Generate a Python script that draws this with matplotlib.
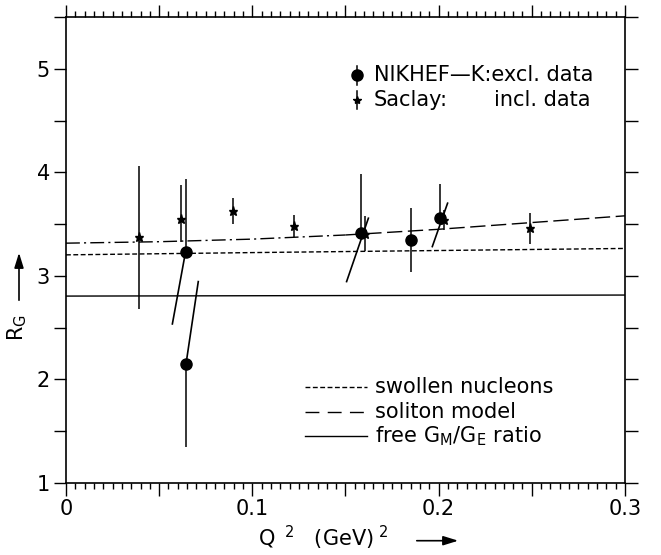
import matplotlib
matplotlib.use("Agg")
import matplotlib.pyplot as plt
from matplotlib.ticker import MultipleLocator, FuncFormatter

plt.rcParams['font.family'] = ['DejaVu Sans']

# Saclay inclusive data (stars)
saclay_q2 = [0.039, 0.0615, 0.0896, 0.1224, 0.1605, 0.2029, 0.249]
saclay_rg = [3.374, 3.545, 3.63, 3.477, 3.406, 3.54, 3.46]
saclay_lo = [0.69, 0.22, 0.13, 0.10, 0.17, 0.10, 0.15]
saclay_hi = [0.69, 0.33, 0.12, 0.11, 0.17, 0.10, 0.15]

# NIKHEF-K exclusive data (filled circles)
nik_q2 = [0.0642, 0.0644, 0.1581, 0.185, 0.2007]
nik_rg = [3.235, 2.147, 3.412, 3.348, 3.563]
nik_lo = [0.0, 0.80, 0.0, 0.31, 0.0]
nik_hi = [0.70, 0.0, 0.57, 0.31, 0.32]

# tilted bars through some NIKHEF points
slant_q2_a = [0.0571, 0.0644, 0.1506, 0.1966]
slant_rg_a = [2.536, 2.147, 2.945, 3.283]
slant_q2_b = [0.0642, 0.0710, 0.1623, 0.2048]
slant_rg_b = [3.235, 2.945, 3.557, 3.702]

# model curves
swollen_q2 = [0.0, 0.1, 0.2, 0.3]
swollen_rg = [3.203, 3.225, 3.245, 3.265]
soliton_q2 = [0.0, 0.05, 0.1, 0.15, 0.2, 0.25, 0.3]
soliton_rg = [3.316, 3.33, 3.355, 3.395, 3.45, 3.515, 3.58]
free_q2 = [0.0, 0.3]
free_rg = [2.805, 2.815]

FS = 15

fig = plt.figure(figsize=(6.61, 5.55), dpi=100)
ax = fig.add_axes([0.0998, 0.1297, 0.8457, 0.8397])

lw = 1.0
ax.plot(free_q2, free_rg, color='black', lw=lw)
ax.plot(swollen_q2, swollen_rg, color='black', lw=lw, dashes=(3.5, 1.8))
# soliton curve: dash-dot at low Q2, long dashes further out
n_split = 4
ax.plot(soliton_q2[:n_split], soliton_rg[:n_split], color='black', lw=lw,
        dashes=(10, 3, 1.5, 3))
ax.plot(soliton_q2[n_split - 1:], soliton_rg[n_split - 1:], color='black', lw=lw,
        dashes=(11, 4))

ax.errorbar(saclay_q2, saclay_rg, yerr=[saclay_lo, saclay_hi], fmt='*',
            color='black', ms=6.5, elinewidth=1.1, capsize=0)
ax.errorbar(nik_q2, nik_rg, yerr=[nik_lo, nik_hi], fmt='o', color='black',
            ms=8, elinewidth=1.1, capsize=0)
for xa, ya, xb, yb in zip(slant_q2_a, slant_rg_a, slant_q2_b, slant_rg_b):
    ax.plot([xa, xb], [ya, yb], color='black', lw=1.2)

ax.set_xlim(0, 0.3)
ax.set_ylim(1, 5.5)

ax.xaxis.set_major_locator(MultipleLocator(0.05))
ax.xaxis.set_minor_locator(MultipleLocator(0.005))
ax.yaxis.set_major_locator(MultipleLocator(0.5))


def xfmt(v, pos):
    if abs(v * 10 - round(v * 10)) > 1e-6:
        return ''
    return '0' if abs(v) < 1e-9 else '%.1f' % v


def yfmt(v, pos):
    return '%d' % round(v) if abs(v - round(v)) < 1e-6 else ''


ax.xaxis.set_major_formatter(FuncFormatter(xfmt))
ax.yaxis.set_major_formatter(FuncFormatter(yfmt))
ax.tick_params(which='both', direction='out', top=True, right=True,
               labelsize=FS, width=1.0)
ax.tick_params(which='major', length=9, pad=2.5)
ax.tick_params(which='minor', length=4)
ax.tick_params(axis='y', which='minor', left=False, right=False)
for s in ax.spines.values():
    s.set_linewidth(1.2)

ftr = fig.transFigure

# legend for the data (top right)
lx = 356.7 / 661
fig.lines.append(plt.Line2D([lx], [1 - 75 / 555], marker='o', ms=8,
                            color='black', transform=ftr))
fig.lines.append(plt.Line2D([lx, lx], [1 - 66 / 555, 1 - 85 / 555], lw=1.1,
                            color='black', transform=ftr))
fig.lines.append(plt.Line2D([lx], [1 - 100 / 555], marker='*', ms=6,
                            color='black', transform=ftr))
fig.lines.append(plt.Line2D([lx, lx], [1 - 91 / 555, 1 - 109 / 555], lw=1.1,
                            color='black', transform=ftr))
tx = 374 / 661
fig.text(tx, 1 - 75 / 555, 'NIKHEF\u2014K:excl. data', fontsize=FS,
         va='center', ha='left')
fig.text(tx, 1 - 100 / 555, 'Saclay:', fontsize=FS, va='center', ha='left')
fig.text(590 / 661, 1 - 100 / 555, 'incl. data', fontsize=FS, va='center',
         ha='right')

# legend for the curves (bottom right)
l0, l1 = 305 / 661, 367 / 661
rows = [386.7, 411.7, 436.0]
styles = [dict(dashes=(3.5, 1.8)), dict(dashes=(10, 6)), dict()]
labels = ['swollen nucleons', 'soliton model',
          r'free G$_{\mathregular{M}}$/G$_{\mathregular{E}}$ ratio']
for r, st, lab in zip(rows, styles, labels):
    y = 1 - r / 555
    fig.lines.append(plt.Line2D([l0, l1], [y, y], lw=lw, color='black',
                                transform=ftr, **st))
    fig.text(375 / 661, y, lab, fontsize=FS, va='center', ha='left')

# axis labels with arrows
fig.text(258 / 661, 1 - 538 / 555, r'Q$^{\ \ 2}$   (GeV)$^{\ 2}$', fontsize=FS,
         va='center', ha='left')
fig.add_artist(matplotlib.patches.FancyArrowPatch(
    (414 / 661, 1 - 540.7 / 555), (461 / 661, 1 - 540.7 / 555),
    transform=ftr, arrowstyle='-|>,head_length=9,head_width=2.8',
    color='black', lw=1.2, mutation_scale=1))

fig.text(17 / 661, 1 - 328 / 555, r'R$_{\mathregular{G}}$', fontsize=FS,
         rotation=90, va='center', ha='center')
fig.add_artist(matplotlib.patches.FancyArrowPatch(
    (19 / 661, 1 - 303 / 555), (19 / 661, 1 - 250 / 555),
    transform=ftr, arrowstyle='-|>,head_length=9,head_width=2.8',
    color='black', lw=1.2, mutation_scale=1))

fig.savefig('out.png', dpi=100)
